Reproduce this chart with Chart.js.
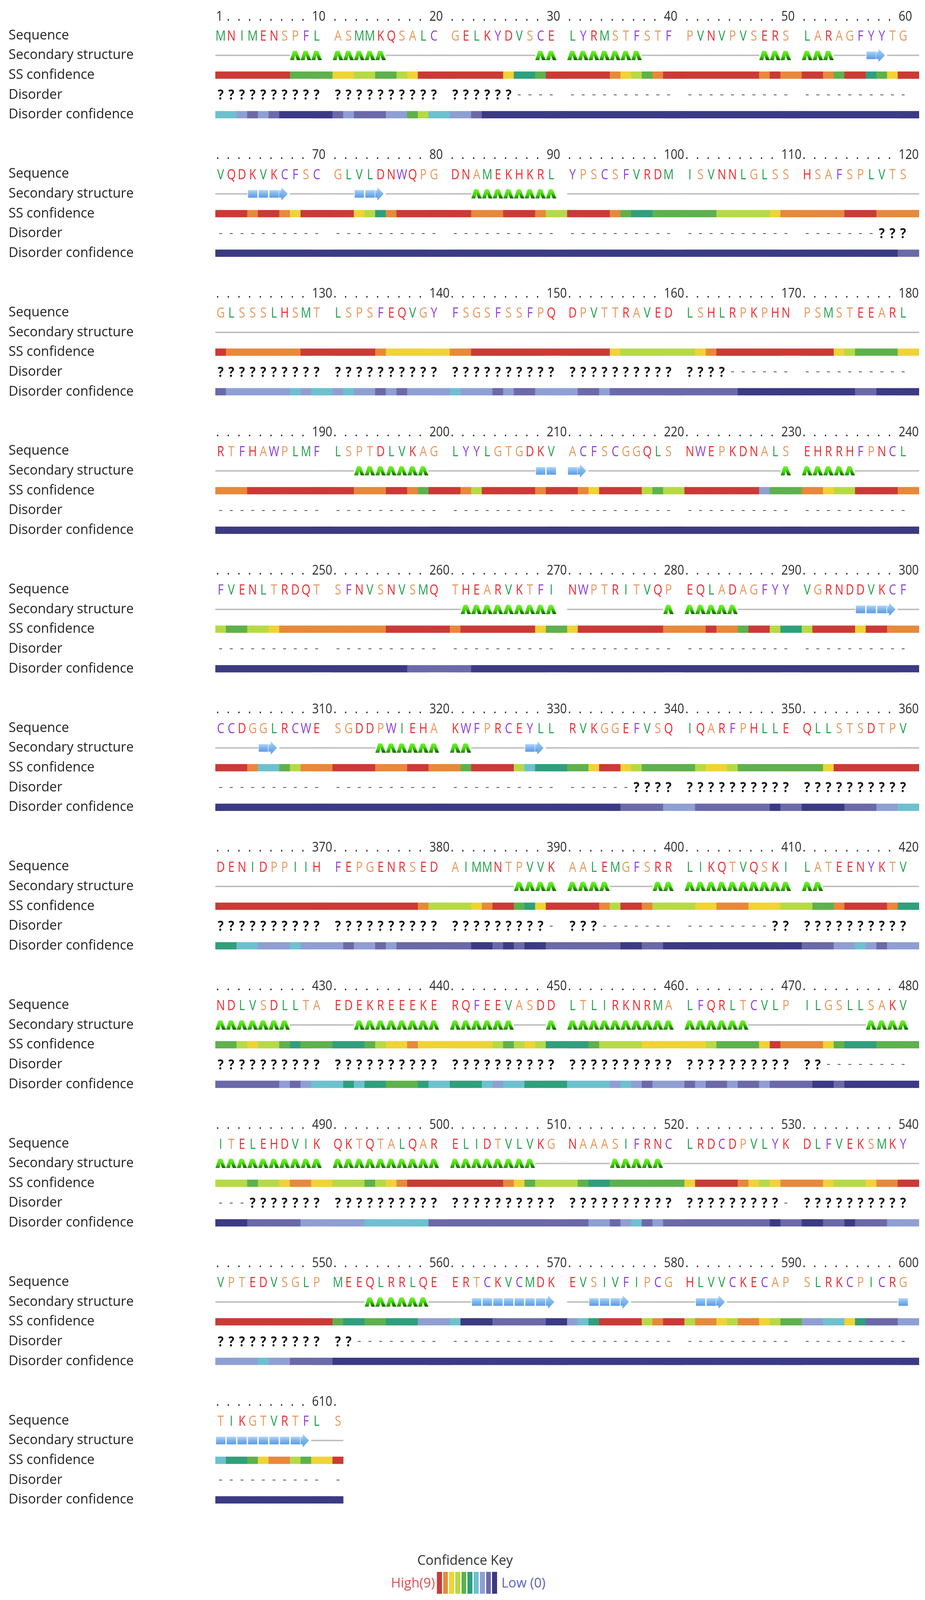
<!DOCTYPE html>
<html lang="en">
<head>
<meta charset="utf-8">
<title>Sequence plot</title>
<script src="https://cdn.jsdelivr.net/npm/chart.js@4.4.1/dist/chart.umd.min.js"></script>
<style>
  html, body { margin:0; padding:0; background:#ffffff; }
  body { width:2367px; height:4266px; position:relative; overflow:hidden; font-family:"Open Sans", sans-serif; color:#2b2b2b; }
  #plot { position:absolute; left:0; top:0; width:2367px; height:3880px; }
  .k { position:absolute; font-size:34px; line-height:34px; white-space:nowrap; }
</style>
</head>
<body>
<div id="plot"><canvas id="chart"></canvas></div>

<div class="k" style="left:990px;top:3976px;width:400px;text-align:center;color:#333;">Confidence Key</div>
<div class="k" style="left:975px;top:4034px;width:138px;text-align:right;color:#d9535a;">High(9)</div>
<div id="keybars" style="position:absolute;left:1118px;top:4024px;height:56px;display:flex;gap:3px;"></div>
<div class="k" style="left:1283px;top:4034px;color:#5d63c0;">Low (0)</div>
<div class="k" style="left:1022px;top:4093px;font-weight:700;color:#111;">?</div>
<div class="k" style="left:1079px;top:4093px;">Disordered ( 43%)</div>
<canvas id="legHelix" width="52" height="24" style="position:absolute;left:1020px;top:4158px"></canvas>
<div class="k" style="left:1079px;top:4153px;">Alpha helix ( 28%)</div>
<canvas id="legArrow" width="46" height="34" style="position:absolute;left:1022px;top:4213px"></canvas>
<div class="k" style="left:1079px;top:4213px;">Beta strand ( 8%)</div>

<script>
// ---------------- data ----------------
const rowLabels = ['', 'Sequence', 'Secondary structure', 'SS confidence', 'Disorder', 'Disorder confidence', ''];

const sequenceRows = [
  'MNIMENSPFL ASMMKQSALC GELKYDVSCE LYRMSTFSTF PVNVPVSERS LARAGFYYTG',
  'VQDKVKCFSC GLVLDNWQPG DNAMEKHKRL YPSCSFVRDM ISVNNLGLSS HSAFSPLVTS',
  'GLSSSLHSMT LSPSFEQVGY FSGSFSSFPQ DPVTTRAVED LSHLRPKPHN PSMSTEEARL',
  'RTFHAWPLMF LSPTDLVKAG LYYLGTGDKV ACFSCGGQLS NWEPKDNALS EHRRHFPNCL',
  'FVENLTRDQT SFNVSNVSMQ THEARVKTFI NWPTRITVQP EQLADAGFYY VGRNDDVKCF',
  'CCDGGLRCWE SGDDPWIEHA KWFPRCEYLL RVKGGEFVSQ IQARFPHLLE QLLSTSDTPV',
  'DENIDPPIIH FEPGENRSED AIMMNTPVVK AALEMGFSRR LIKQTVQSKI LATEENYKTV',
  'NDLVSDLLTA EDEKREEEKE RQFEEVASDD LTLIRKNRMA LFQRLTCVLP ILGSLLSAKV',
  'ITELEHDVIK QKTQTALQAR ELIDTVLVKG NAAASIFRNC LRDCDPVLYK DLFVEKSMKY',
  'VPTEDVSGLP MEEQLRRLQE ERTCKVCMDK EVSIVFIPCG HLVVCKECAP SLRKCPICRG',
  'TIKGTVRTFL S'
];

// C = coil, H = alpha helix, E = beta strand
const secondaryRows = [
  'CCCCCCCHHH HHHHHCCCCC CCCCCCCCHH HHHHHHHCCC CCCCCCCHHH HHHCCCEECC',
  'CCCEEEECCC CCEEECCCCC CCHHHHHHHH CCCCCCCCCC CCCCCCCCCC CCCCCCCCCC',
  'CCCCCCCCCC CCCCCCCCCC CCCCCCCCCC CCCCCCCCCC CCCCCCCCCC CCCCCCCCCC',
  'CCCCCCCCCC CCHHHHHHHC CCCCCCCCEE EECCCCCCCC CCCCCCCCCH HHHHHCCCCC',
  'CCCCCCCCCC CCCCCCCCCC CHHHHHHHHH CCCCCCCCCH HHHHHCCCCC CCCCCEEEEC',
  'CCCCEECCCC CCCCHHHHHH HHCCCCCEEC CCCCCCCCCC CCCCCCCCCC CCCCCCCCCC',
  'CCCCCCCCCC CCCCCCCCCC CCCCCCHHHH HHHHCCCCHH HHHHHHHHHH HHCCCCCCCC',
  'HHHHHHHCCC CCHHHHHHHH HHHHHHCCCH HHHHHHHHHH HHHHHHCCCC CCCCCCHHHH',
  'HHHHHHHHHH HHHHHHHHHH HHHHHHHHCC CCCCHHHHHC CCCCCCCCCC CCCCCCCCCC',
  'CCCCCCCCCC CCCHHHHHHC CCEEEEEEEE CCEEEECCCC CEEECCCCCC CCCCCCCCCE',
  'EEEEEEEEEC C'
];

const ssConfidenceRows = [
  '9999999555 7766556799 9999974459 9999876589 9999999898 9985994579',
  '9998998799 9976489999 9988899986 9999854455 5556666678 8888999888',
  '9888888899 9999877777 8899999999 9999766666 6789999999 9997655557',
  '8889999999 9988899859 9869999989 9879999656 9999999255 8876699998',
  '6556678888 8888899999 8999999975 7999999998 8898859964 6999979988',
  '9998335688 9999888998 8599996344 5579976555 5677655555 5579999999',
  '9999999999 9999999986 6678995479 9998699866 6778887776 6558999984',
  '5567665455 4445677877 7777656764 4456666777 7765555798 8875444555',
  '6665667887 6665678999 9999987566 6544555555 7999987678 8876667889',
  '9999999999 5445544422 3000111110 2349999689 6887688765 2233741112',
  '3445788657 9'
];

const disorderRows = [
  '?????????? ?????????? ??????---- ---------- ---------- ----------',
  '---------- ---------- ---------- ---------- ---------- -------???',
  '?????????? ?????????? ?????????? ?????????? ????------ ----------',
  '---------- ---------- ---------- ---------- ---------- ----------',
  '---------- ---------- ---------- ---------- ---------- ----------',
  '---------- ---------- ---------- ------???? ?????????? ??????????',
  '?????????? ?????????? ?????????- ???------- --------?? ??????????',
  '?????????? ?????????? ?????????? ?????????? ?????????? ??--------',
  '---??????? ?????????? ?????????? ?????????? ?????????- ??????????',
  '?????????? ??-------- ---------- ---------- ---------- ----------',
  '---------- -'
];

const disorderConfidenceRows = [
  '3321210000 1211122563 2210000000 0000000000 0000000000 0000000000',
  '0000000000 0000000000 0000000000 0000000000 0000000000 0000000001',
  '1222222323 2322121222 3222121122 2112111111 1111100000 0000011000',
  '0000000000 0000000000 0000000000 0000000000 0000000000 0000000000',
  '0000000000 0000000111 1100000000 0000000000 0000000000 0000000000',
  '0000000000 0000000000 0000000000 0000011112 2111111101 0000111223',
  '4433222322 2122121111 1100101001 1111100110 0000000000 1112232122',
  '1111112123 3434455543 4443233444 3333232122 1211211211 1001000000',
  '0001111122 2223333331 1111111111 1122123121 1111111101 0011011122',
  '2222322111 0000000000 0000000000 0000000000 0000000000 0000000000',
  '0000000000 0'
];

// colour for confidence 0 .. 9
const confColors = ['#3b3a84', '#6b69a9', '#8f9fd3', '#6dc1cf', '#2f9f7c', '#5eb14c', '#b6da45', '#f0d335', '#e7893b', '#cb3a36'];
const residueClasses = [['MILV', '#1fa14b'], ['NEKQDRH', '#ee2a2f'], ['SPAGT', '#e8995d'], ['FYCW', '#8c3fdc']];

// ---------------- helpers ----------------
const clean = s => s.replace(/\s+/g, '');
const SEQ = sequenceRows.map(clean);
const SS = secondaryRows.map(clean);
const SSC = ssConfidenceRows.map(clean);
const DIS = disorderRows.map(clean);
const DISC = disorderConfidenceRows.map(clean);
const FLAT_SS = SS.join('');

const GROUP = 10, PER_ROW = 60, LINES = 7;
const cellOf = i => i + Math.floor(i / GROUP);
const spanOf = i => { const c = cellOf(i); return [c, c + (i % GROUP === GROUP - 1 ? 2 : 1)]; };
const lineOf = (b, k) => b * LINES + k;
const LAST_LINE = (SEQ.length - 1) * LINES + 5;

function makeHelixGlyph(w, h) {
  const cv = document.createElement('canvas'); cv.width = w; cv.height = h;
  const g = cv.getContext('2d');
  const gr = g.createLinearGradient(0, 0, 0, h);
  gr.addColorStop(0, '#74f334'); gr.addColorStop(0.55, '#48d80e'); gr.addColorStop(1, '#2fb006');
  g.fillStyle = gr;
  g.beginPath();
  g.moveTo(w * 0.02, h);
  g.lineTo(w * 0.27, h * 0.06);
  g.quadraticCurveTo(w * 0.46, -h * 0.06, w * 0.66, h * 0.06);
  g.lineTo(w * 0.98, h);
  g.lineTo(w * 0.64, h);
  g.lineTo(w * 0.48, h * 0.50);
  g.lineTo(w * 0.38, h);
  g.closePath(); g.fill();
  const gd = g.createLinearGradient(0, h * 0.35, 0, h);
  gd.addColorStop(0, 'rgba(18,85,8,0)'); gd.addColorStop(1, 'rgba(18,85,8,0.9)');
  g.fillStyle = gd;
  g.beginPath();
  g.moveTo(w * 0.57, h * 0.30); g.lineTo(w * 0.98, h); g.lineTo(w * 0.64, h); g.lineTo(w * 0.50, h * 0.52);
  g.closePath(); g.fill();
  const gl = g.createLinearGradient(0, h * 0.6, 0, h);
  gl.addColorStop(0, 'rgba(18,85,8,0)'); gl.addColorStop(1, 'rgba(18,85,8,0.45)');
  g.fillStyle = gl;
  g.beginPath();
  g.moveTo(w * 0.02, h); g.lineTo(w * 0.16, h * 0.55); g.lineTo(w * 0.46, h * 0.55); g.lineTo(w * 0.38, h);
  g.closePath(); g.fill();
  return cv;
}
function blueGradient(g, y0, y1) {
  const gr = g.createLinearGradient(0, y0, 0, y1);
  gr.addColorStop(0, '#b0d5f9'); gr.addColorStop(0.45, '#80b7ef'); gr.addColorStop(1, '#5e9ce3');
  return gr;
}
function makeArrowHead(w, h) {
  const cv = document.createElement('canvas'); cv.width = w; cv.height = h;
  const g = cv.getContext('2d');
  g.fillStyle = blueGradient(g, h / 2 - 9.5, h / 2 + 9.5);
  g.fillRect(0, h / 2 - 9.5, w * 0.22, 19);
  g.fillStyle = blueGradient(g, 0, h);
  g.beginPath(); g.moveTo(w * 0.2, 0); g.lineTo(w * 0.78, h / 2); g.lineTo(w * 0.2, h); g.closePath(); g.fill();
  return cv;
}
const helixImg = makeHelixGlyph(28, 24);
const arrowImg = makeArrowHead(28, 34);

// ---------------- build marks from the arrays ----------------
const ssConfData = [], disConfData = [], coilData = [], strandData = [], helixPts = [], headPts = [];
SEQ.forEach((seq, b) => {
  for (let i = 0; i < seq.length; i++) {
    const n = b * PER_ROW + i;
    const c = cellOf(i);
    ssConfData.push({ x: spanOf(i), y: lineOf(b, 3), v: +SSC[b][i] });
    disConfData.push({ x: spanOf(i), y: lineOf(b, 5), v: +DISC[b][i] });
    const s = SS[b][i];
    if (s === 'C') {
      let end = c + 1;
      if (i % GROUP === GROUP - 1) {
        const next = i + 1 < seq.length ? SS[b][i + 1] : (seq.length === PER_ROW ? 'C' : null);
        if (next === 'C') end = c + 2;
      }
      coilData.push({ x: [c, end], y: lineOf(b, 2) });
    } else if (s === 'H') {
      helixPts.push({ x: c + 0.5, y: lineOf(b, 2) });
    } else if (s === 'E') {
      if (FLAT_SS[n + 1] === 'E') strandData.push({ x: [c + 0.08, c + 0.93], y: lineOf(b, 2) });
      else headPts.push({ x: c + 0.5, y: lineOf(b, 2) });
    }
  }
});

const strandCache = {};
const strandFill = (ctx) => {
  const sc = ctx.chart && ctx.chart.scales && ctx.chart.scales.y;
  if (!ctx.raw || !sc) return '#80b7ef';
  const yPix = sc.getPixelForValue(ctx.raw.y);
  if (!isFinite(yPix)) return '#80b7ef';
  const key = Math.round(yPix);
  if (!strandCache[key]) strandCache[key] = blueGradient(ctx.chart.ctx, yPix - 9.5, yPix + 9.5);
  return strandCache[key];
};

function squeeze(ctx, s, x, y, sx, align) {
  ctx.save(); ctx.translate(x, y); ctx.scale(sx, 1); ctx.textAlign = align; ctx.fillText(s, 0, 0); ctx.restore();
}
const colorOf = ch => (residueClasses.find(([set]) => set.includes(ch)) || ['', '#333'])[1];

const textPlugin = {
  id: 'residueText',
  afterDatasetsDraw(chart) {
    const { ctx, scales: { x, y } } = chart;
    ctx.save();
    ctx.textBaseline = 'alphabetic';
    SEQ.forEach((seq, b) => {
      const yNum = y.getPixelForValue(lineOf(b, 0));
      const ySeq = y.getPixelForValue(lineOf(b, 1));
      const yDis = y.getPixelForValue(lineOf(b, 4));
      for (let i = 0; i < seq.length; i++) {
        const n = b * PER_ROW + i + 1;
        const c = cellOf(i);
        const xl = x.getPixelForValue(c), xc = x.getPixelForValue(c + 0.5);
        ctx.fillStyle = '#2a2a2a';
        ctx.font = '35px "Open Sans"';
        squeeze(ctx, (n === 1 || n % 10 === 0) ? String(n) : '.', xl + 2, yNum + 12.5, 0.86, 'left');
        ctx.font = '37px "Open Sans"';
        ctx.fillStyle = colorOf(seq[i]);
        squeeze(ctx, seq[i], xc, ySeq + 13, 0.8, 'center');
        if (DIS[b][i] === '?') {
          ctx.font = 'bold 35px "Open Sans"'; ctx.fillStyle = '#111';
          squeeze(ctx, '?', xc, yDis + 12.5, 0.9, 'center');
        } else {
          ctx.font = '30px "Open Sans"'; ctx.fillStyle = '#555';
          squeeze(ctx, '-', xc, yDis + 8, 1, 'center');
        }
      }
    });
    ctx.restore();
  }
};

const barBase = { indexAxis: 'y', grouped: false, borderWidth: 0 };

new Chart(document.getElementById('chart'), {
  type: 'bar',
  data: {
    datasets: [
      Object.assign({ label: 'SS confidence', data: ssConfData, barThickness: 18, order: 6,
        backgroundColor: c => c.raw ? confColors[c.raw.v] : confColors[9] }, barBase),
      Object.assign({ label: 'Disorder confidence', data: disConfData, barThickness: 18, order: 6,
        backgroundColor: c => c.raw ? confColors[c.raw.v] : confColors[0] }, barBase),
      Object.assign({ label: 'Coil', data: coilData, barThickness: 3, order: 5, backgroundColor: '#bdbdbd' }, barBase),
      Object.assign({ label: 'Beta strand', data: strandData, barThickness: 19, order: 4, backgroundColor: strandFill }, barBase),
      { type: 'scatter', label: 'Alpha helix', data: helixPts, pointStyle: helixImg, pointRadius: 12, order: 3 },
      { type: 'scatter', label: 'Strand end', data: headPts, pointStyle: arrowImg, pointRadius: 14, order: 2 }
    ]
  },
  options: {
    responsive: true,
    maintainAspectRatio: false,
    animation: false,
    events: [],
    layout: { padding: { left: 22, right: 3, top: 6.6, bottom: 12.6 } },
    plugins: { legend: { display: false }, tooltip: { enabled: false } },
    scales: {
      x: { type: 'linear', min: 0, max: 66, bounds: 'data', offset: false, display: false },
      y: {
        type: 'linear', reverse: true, min: -0.5, max: LAST_LINE + 0.5, bounds: 'data', offset: false,
        grid: { display: false, drawTicks: false }, border: { display: false },
        afterBuildTicks: s => { s.ticks = Array.from({ length: LAST_LINE + 1 }, (_, v) => ({ value: v })); },
        afterFit: s => { s.width = 529; s.paddingTop = 0; s.paddingBottom = 0; },
        ticks: {
          autoSkip: false, crossAlign: 'far', padding: 0, color: '#222',
          font: { family: 'Open Sans', size: 34 },
          callback: v => rowLabels[v % LINES]
        }
      }
    }
  },
  plugins: [textPlugin]
});

// ---------------- legend glyphs ----------------
const kb = document.getElementById('keybars');
for (let v = 9; v >= 0; v--) {
  const d = document.createElement('div');
  d.style.cssText = 'width:12.7px;height:56px;background:' + confColors[v];
  kb.appendChild(d);
}
const lh = document.getElementById('legHelix').getContext('2d');
lh.drawImage(helixImg, 0, 1, 26, 22); lh.drawImage(helixImg, 24, 1, 26, 22);
const la = document.getElementById('legArrow').getContext('2d');
la.fillStyle = blueGradient(la, 8, 26);
la.fillRect(0, 8, 22, 18);
la.fillStyle = blueGradient(la, 0, 34);
la.beginPath(); la.moveTo(20, 0); la.lineTo(44, 17); la.lineTo(20, 34); la.closePath(); la.fill();
</script>
</body>
</html>
